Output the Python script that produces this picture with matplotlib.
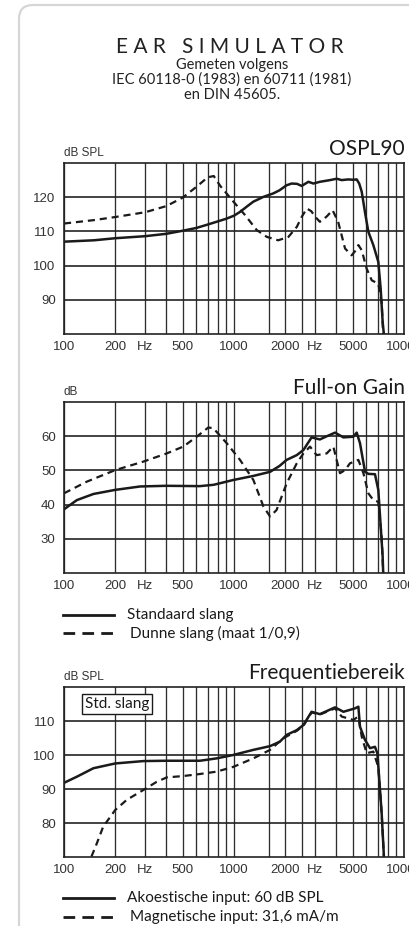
import matplotlib
matplotlib.use("Agg")
import matplotlib.pyplot as plt
from matplotlib.patches import FancyBboxPatch

W, H = 409, 926
DPI = 100

# ---------------- data ----------------
grid_freqs = [100, 200, 300, 400, 500, 600, 700, 800, 900, 1000, 1600, 2000,
              2500, 3000, 4000, 5000, 6000, 7000, 8000, 9000, 10000]
tick_freqs = [100, 200, 300, 500, 1000, 2000, 3000, 5000, 10000]
tick_labels = ["100", "200", "Hz", "500", "1000", "2000", "Hz", "5000", "10000"]

# OSPL90 (dB SPL)
ospl_freq_std = [100, 150, 200, 300, 400, 500, 600, 700, 800, 900, 1000, 1085, 1200,
                 1300, 1490, 1700, 1850, 2040, 2185, 2350, 2500, 2740, 2930, 3200,
                 3670, 4020, 4300, 4700, 5000, 5270, 5450, 5640, 5900, 6170, 6600,
                 7060, 7290, 7490, 7630]
ospl_std = [107.0, 107.4, 108.0, 108.6, 109.3, 110.2, 111.0, 112.0, 112.9, 113.7,
            114.6, 115.7, 117.4, 118.7, 120.1, 121.1, 122.0, 123.5, 124.0, 123.9,
            123.3, 124.5, 124.0, 124.5, 125.0, 125.4, 125.0, 125.2, 125.1, 125.2,
            124.0, 121.6, 115.5, 109.9, 106.0, 101.1, 93.3, 83.5, 79.5]
ospl_freq_thin = [100, 150, 200, 300, 400, 500, 600, 700, 760, 830, 1000, 1160, 1360,
                  1560, 1820, 2090, 2340, 2500, 2680, 2850, 3000, 3200, 3500, 3800,
                  4100, 4500, 4920, 5150, 5390, 5640, 6030, 6460, 7060, 7390, 7550]
ospl_thin = [112.3, 113.3, 114.2, 115.6, 117.4, 119.9, 123.0, 125.8, 126.2, 123.3,
             118.5, 114.8, 110.4, 108.4, 107.4, 108.4, 111.3, 114.2, 116.7, 115.9,
             114.3, 112.8, 114.3, 116.2, 112.8, 105.0, 103.0, 104.2, 106.0, 104.5,
             99.1, 95.7, 94.7, 89.3, 79.5]

# Full-on gain (dB)
gain_freq_std = [100, 119, 149, 200, 280, 400, 630, 760, 990, 1300, 1630, 1850, 2040,
                 2340, 2560, 2860, 3200, 3500, 3930, 4400, 5030, 5270, 5510, 5900,
                 6170, 6750, 7060, 7230, 7490, 7550]
gain_std = [38.6, 41.3, 43.1, 44.3, 45.3, 45.5, 45.4, 45.8, 47.2, 48.4, 49.6, 51.3,
            53.1, 54.5, 56.0, 59.7, 59.1, 60.0, 61.1, 59.7, 59.9, 61.1, 58.0, 49.6,
            49.0, 48.9, 44.3, 36.5, 24.7, 19.5]
gain_freq_thin = [100, 136, 200, 293, 402, 503, 603, 706, 756, 906, 1085, 1300, 1490,
                  1630, 1780, 2040, 2340, 2560, 2800, 3060, 3510, 3840, 4200, 4500,
                  4810, 5390, 5770, 6170, 6600, 7060, 7390, 7550]
gain_thin = [43.3, 46.7, 50.1, 52.6, 55.0, 57.0, 59.9, 62.6, 62.4, 58.0, 53.1, 47.2,
             39.4, 36.5, 38.4, 46.2, 52.1, 55.0, 57.0, 54.5, 55.0, 57.0, 49.2, 50.1,
             52.1, 53.1, 49.2, 43.3, 41.3, 40.8, 30.6, 19.5]

# Frequency range (dB SPL)
freq_freq_ac = [100, 119, 149, 200, 293, 402, 631, 791, 991, 1300, 1630, 1860, 2040,
                2340, 2560, 2860, 3200, 3930, 4400, 5150, 5390, 5510, 5900, 6310, 6750,
                6970, 7160, 7390, 7630]
freq_ac = [91.9, 93.7, 96.2, 97.6, 98.3, 98.4, 98.4, 99.1, 100.1, 101.6, 102.7, 104.0,
           106.0, 107.4, 108.9, 112.8, 112.1, 114.1, 112.8, 113.8, 114.3, 108.4, 104.5,
           102.1, 102.5, 100.6, 92.7, 82.9, 69.5]
freq_freq_mag = [145, 156, 170, 200, 234, 293, 351, 402, 503, 631, 791, 991, 1300, 1630,
                 1950, 2340, 2560, 2860, 3200, 3930, 4300, 5030, 5390, 5640, 6030, 6600,
                 7060, 7390, 7630]
freq_mag = [70.2, 74.1, 79.0, 83.9, 86.9, 89.8, 92.2, 93.5, 93.9, 94.5, 95.2, 96.6,
            99.1, 101.6, 105.0, 107.2, 108.7, 112.6, 112.0, 113.8, 111.4, 110.4, 111.4,
            105.5, 100.6, 101.1, 96.6, 82.9, 69.5]

# ---------------- figure ----------------
TITLE_FONT = ["Lato", "DejaVu Sans"]
NARROW_FONT = ["Liberation Sans Narrow", "Liberation Sans", "DejaVu Sans"]
INK = "#1a1a1a"

fig = plt.figure(figsize=(W / DPI, H / DPI), dpi=DPI)
fig.patch.set_facecolor("white")


def fx(x):
    return x / W


def fy(y):
    return 1 - y / H


# background canvas in pixel units for the rounded panel outline
bg = fig.add_axes([0, 0, 1, 1], zorder=-10)
bg.set_xlim(0, W)
bg.set_ylim(H, 0)
bg.axis("off")
bg.add_patch(FancyBboxPatch((19, 5), 600, 1000,
                            boxstyle="round,pad=0,rounding_size=14",
                            fc="white", ec="#d6d6d6", lw=1.6))

fig.text(fx(230), fy(47), "E A R   S I M U L A T O R", ha="center", va="center",
         fontsize=15, family=TITLE_FONT, color="#222222")
for ytxt, s in [(65, "Gemeten volgens"),
                (80, "IEC 60118-0 (1983) en 60711 (1981)"),
                (95, "en DIN 45605.")]:
    fig.text(fx(232), fy(ytxt), s, ha="center", va="center", fontsize=10.5,
             family=TITLE_FONT, color="#222222")


def make_panel(top, bottom, ylim, yticks, ylabel, title,
               f1, v1, f2, v2):
    ax = fig.add_axes([fx(64), fy(bottom), (404 - 64) / W, (bottom - top) / H])
    ax.set_xscale("log")
    ax.set_xlim(100, 10000)
    ax.set_ylim(*ylim)
    ax.set_xticks(tick_freqs)
    ax.set_xticklabels(tick_labels)
    ax.set_xticks(grid_freqs, minor=True)
    ax.xaxis.set_minor_formatter(plt.NullFormatter())
    ax.set_yticks(yticks)
    ax.set_yticklabels([str(v) for v in yticks])
    ax.tick_params(which="both", length=0, labelsize=9.5, colors="#333333")
    ax.tick_params(axis="x", pad=5)
    ax.tick_params(axis="y", pad=6)
    for lab in ax.get_xticklabels() + ax.get_yticklabels():
        lab.set_family(NARROW_FONT)
    ax.grid(which="both", axis="x", color="#2e2e2e", lw=0.95)
    ax.grid(which="major", axis="y", color="#222222", lw=1.2)
    ax.set_axisbelow(True)
    for sp in ax.spines.values():
        sp.set_color("#222222")
        sp.set_linewidth(1.2)
    ax.plot(f1, v1, color=INK, lw=1.8, solid_capstyle="round", clip_on=True)
    ax.plot(f2, v2, color=INK, lw=1.6, ls=(0, (3.2, 2.2)), clip_on=True)
    fig.text(fx(64), fy(top - 10), ylabel, ha="left", va="center", fontsize=8.5,
             family=NARROW_FONT, color="#333333")
    fig.text(fx(405), fy(top - 8), title, ha="right", va="baseline", fontsize=15,
             family=TITLE_FONT, color="#1a1a1a")
    return ax


make_panel(163, 334, (80, 130), [90, 100, 110, 120], "dB SPL", "OSPL90",
           ospl_freq_std, ospl_std, ospl_freq_thin, ospl_thin)
make_panel(402.3, 572.7, (20, 70), [30, 40, 50, 60], "dB", "Full-on Gain",
           gain_freq_std, gain_std, gain_freq_thin, gain_thin)
ax3 = make_panel(687.3, 857.3, (70, 120), [80, 90, 100, 110], "dB SPL",
                 "Frequentiebereik",
                 freq_freq_ac, freq_ac, freq_freq_mag, freq_mag)
ax3.text(0.156, 0.902, "Std. slang", transform=ax3.transAxes, ha="center",
         va="center", fontsize=11, family=TITLE_FONT, color="#1a1a1a",
         bbox=dict(boxstyle="square,pad=0.2", fc="white", ec="#1a1a1a", lw=1.0))


def legend_rows(rows):
    for y, dashed, label, tx in rows:
        bg.plot([63, 114], [y, y], color=INK, lw=2.0,
                ls=(0, (4.2, 2.6)) if dashed else "-")
        bg.text(tx, y, label, ha="left", va="center", fontsize=11,
                family=TITLE_FONT, color="#1a1a1a")


legend_rows([(615, False, "Standaard slang", 127),
             (633, True, "Dunne slang (maat 1/0,9)", 130)])
legend_rows([(898, False, "Akoestische input: 60 dB SPL", 127),
             (917, True, "Magnetische input: 31,6 mA/m", 130)])

fig.savefig("out.png", dpi=DPI, facecolor="white")
